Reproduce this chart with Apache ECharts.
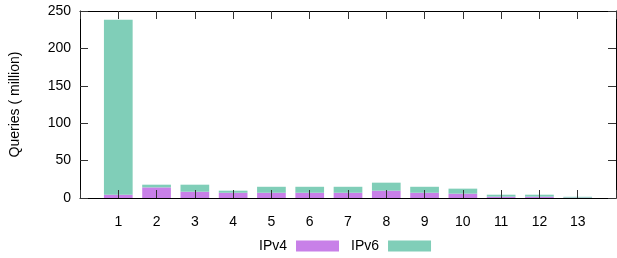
<html>
<head>
<meta charset="utf-8"/>
<title>ECharts</title>
<script src="https://cdn.jsdelivr.net/npm/echarts@6/dist/echarts.min.js"></script>
<style>
  body { margin: 0; padding: 0; background: #fff; }
  #chart { width: 617px; height: 258px; }
</style>
</head>
<body>
<div id="chart"></div>
<script type="text/javascript">
// data (million queries)
let categories = ['1', '2', '3', '4', '5', '6', '7', '8', '9', '10', '11', '12', '13'];
let ipv4 = [4.4, 14.2, 8.4, 7, 7, 7, 7, 9.8, 7, 5.8, 1.8, 1.8, 0.5];
let ipv6 = [233.8, 3.6, 9.4, 2.8, 8, 8, 8, 10.7, 8, 6.7, 2.6, 2.6, 1.1];
let yTicks = [0, 50, 100, 150, 200, 250];

let chart = echarts.init(document.getElementById('chart'));

let font = 'Liberation Sans, Arial, sans-serif';
let tickStyle = { show: true, inside: true, length: 8, lineStyle: { color: '#333', width: 1 } };
let frameLine = { show: true, onZero: false, lineStyle: { color: '#000', width: 1 } };

// frame grid spans x 0..14, the bar grid covers the bands 0.5..13.5 of it
let band = (617 - 1 - 80) / 14;

chart.setOption({
  animation: false,
  textStyle: { fontFamily: font },
  grid: [
    { left: 80 + band / 2, right: 1 + band / 2, top: 11, bottom: 60 },
    { left: 80, right: 1, top: 11, bottom: 60 }
  ],
  legend: {
    left: 254,
    top: 234,
    align: 'right',
    itemWidth: 43,
    itemHeight: 11,
    itemGap: 12,
    icon: 'rect',
    textStyle: { fontSize: 14, color: '#000', fontFamily: font, padding: [0, 4, 0, 0] },
    data: ['IPv4', 'IPv6']
  },
  xAxis: [
    {
      type: 'category',
      gridIndex: 0,
      data: categories,
      axisLine: { show: false },
      axisTick: { show: false },
      axisLabel: { fontSize: 14, color: '#000', margin: 17 }
    },
    {
      type: 'value', gridIndex: 1, position: 'bottom',
      min: 0, max: 14, interval: 1, z: 5,
      splitLine: { show: false }, axisLine: frameLine, axisTick: tickStyle,
      axisLabel: { show: false }
    },
    {
      type: 'value', gridIndex: 1, position: 'top',
      min: 0, max: 14, interval: 1, z: 5,
      splitLine: { show: false }, axisLine: frameLine, axisTick: tickStyle,
      axisLabel: { show: false }
    }
  ],
  yAxis: [
    {
      type: 'value', gridIndex: 0,
      min: yTicks[0], max: yTicks[yTicks.length - 1], interval: 50,
      show: false, splitLine: { show: false }
    },
    {
      type: 'value', gridIndex: 1, position: 'left',
      min: yTicks[0], max: yTicks[yTicks.length - 1], interval: 50, z: 5,
      name: 'Queries ( million)',
      nameLocation: 'middle',
      nameGap: 58,
      nameTextStyle: { fontSize: 14, color: '#000' },
      splitLine: { show: false }, axisLine: frameLine, axisTick: tickStyle,
      axisLabel: { fontSize: 14, color: '#000', margin: 9 }
    },
    {
      type: 'value', gridIndex: 1, position: 'right',
      min: yTicks[0], max: yTicks[yTicks.length - 1], interval: 50, z: 5,
      splitLine: { show: false }, axisLine: frameLine, axisTick: tickStyle,
      axisLabel: { show: false }
    }
  ],
  series: [
    {
      name: 'IPv4',
      type: 'bar',
      stack: 'q',
      xAxisIndex: 0,
      yAxisIndex: 0,
      barWidth: '75%',
      itemStyle: { color: '#c880e8' },
      data: ipv4
    },
    {
      name: 'IPv6',
      type: 'bar',
      stack: 'q',
      xAxisIndex: 0,
      yAxisIndex: 0,
      barWidth: '75%',
      itemStyle: { color: '#80ceb8' },
      data: ipv6
    }
  ]
});
</script>
</body>
</html>
